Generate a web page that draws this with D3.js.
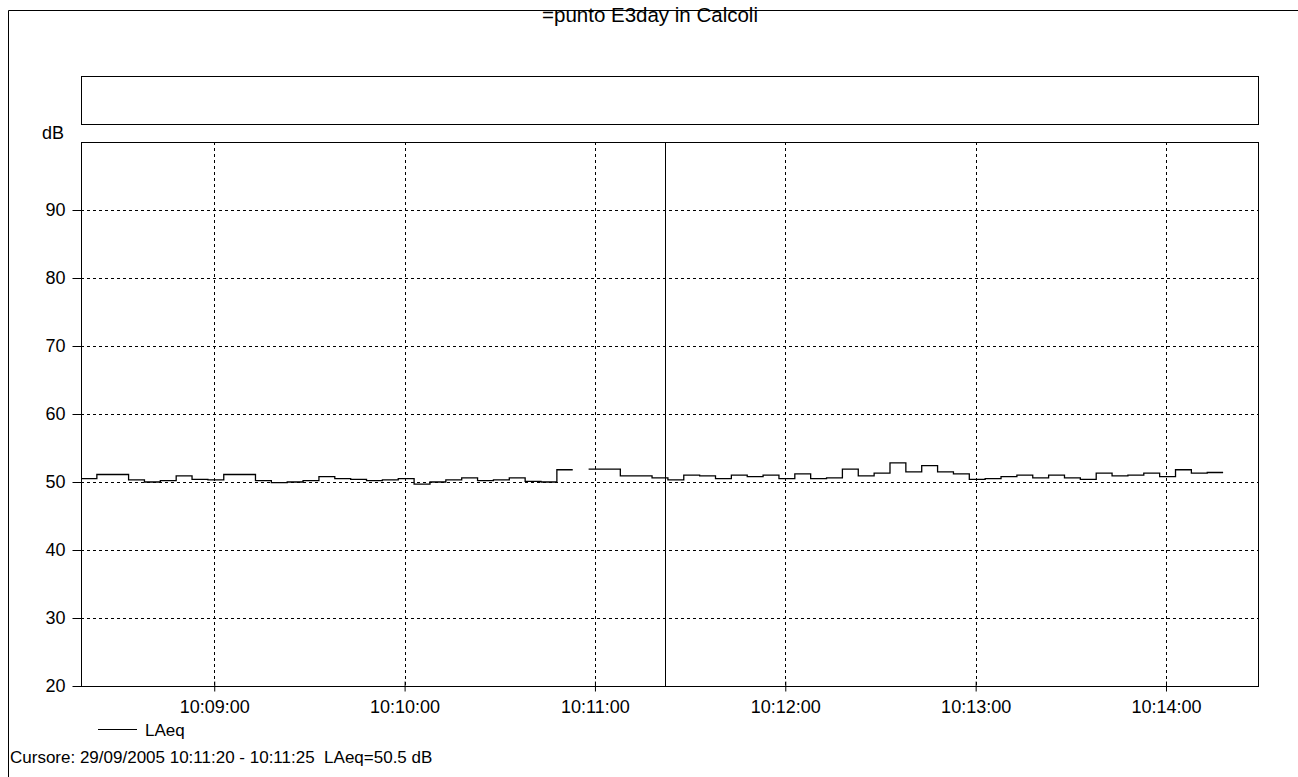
<!DOCTYPE html>
<html>
<head>
<meta charset="utf-8">
<title>=punto E3day in Calcoli</title>
<script src="https://cdn.jsdelivr.net/npm/d3@7"></script>
<style>
  body { margin: 0; background: #fff; }
  svg { display: block; font-family: "Liberation Sans", Arial, sans-serif; }
</style>
</head>
<body>
<div id="chart"></div>
<script>
// LAeq, 5 s intervals starting at 10:08:18 (null = missing sample)
const start_time = "10:08:18";
const step_seconds = 5;
const laeq = [
  50.5, 51.1, 51.1, 50.3, 50.0, 50.2, 50.9, 50.4, 50.3, 51.1,
  51.1, 50.2, 49.9, 50.0, 50.2, 50.8, 50.5, 50.4, 50.2, 50.3,
  50.5, 49.7, 50.0, 50.3, 50.6, 50.2, 50.3, 50.6, 50.1, 50.0,
  51.8, null, 51.9, 51.9, 50.9, 50.9, 50.6, 50.3, 51.0, 50.9,
  50.5, 51.0, 50.8, 51.0, 50.5, 51.2, 50.5, 50.6, 51.9, 50.9,
  51.3, 52.8, 51.5, 52.4, 51.5, 51.2, 50.4, 50.5, 50.8, 51.0,
  50.6, 51.0, 50.6, 50.4, 51.3, 50.9, 51.0, 51.3, 50.8, 51.8,
  51.3, 51.4
];
const y_ticks = [20, 30, 40, 50, 60, 70, 80, 90];
const x_ticks = ["10:09:00", "10:10:00", "10:11:00", "10:12:00", "10:13:00", "10:14:00"];
const x_range_times = ["10:08:18", "10:14:29"];
const cursor_time = "10:11:22";
const title = "=punto E3day in Calcoli";
const series_name = "LAeq";
const status_text = "Cursore: 29/09/2005 10:11:20 - 10:11:25  LAeq=50.5 dB";

const width = 1298, height = 777;
const plot = {left: 81, right: 1258, top: 142, bottom: 686};
const parse = d3.timeParse("%H:%M:%S");
const fmt = d3.timeFormat("%H:%M:%S");

// step points: each sample holds until the next one; a missing sample breaks the line
const t0 = parse(start_time);
const time_at = i => d3.timeSecond.offset(t0, i * step_seconds);
const points = [];
laeq.forEach((v, i) => {
  if (v == null) { points.push({t: time_at(i), v: null}); return; }
  points.push({t: time_at(i), v: v});
  if (i === laeq.length - 1 || laeq[i + 1] == null) points.push({t: time_at(i + 1), v: v});
});

const svg = d3.select("#chart").append("svg")
  .attr("width", width).attr("height", height)
  .style("font-size", "18px");

const x = d3.scaleTime()
  .domain(x_range_times.map(parse))
  .range([plot.left, plot.right]);

const y = d3.scaleLinear()
  .domain([20, 100])
  .range([plot.bottom, plot.top]);

// outer frame (top and left edges only visible)
svg.append("path")
  .attr("d", `M8.5,${height} V10.5 H${width}`)
  .attr("fill", "none").attr("stroke", "#000");

svg.append("text")
  .attr("x", 650).attr("y", 22)
  .attr("text-anchor", "middle")
  .style("font-size", "20.5px")
  .text(title);

// empty upper box
svg.append("rect")
  .attr("x", plot.left + 0.5).attr("y", 76.5)
  .attr("width", plot.right - plot.left).attr("height", 48)
  .attr("fill", "none").attr("stroke", "#000");

// grid
const grid = svg.append("g")
  .attr("stroke", "#000").attr("stroke-dasharray", "3,3").attr("stroke-width", 1);

grid.selectAll("line.h")
  .data(y_ticks.filter(d => d > 20))
  .join("line")
    .attr("x1", plot.left).attr("x2", plot.right)
    .attr("y1", d => Math.round(y(d)) + 0.5).attr("y2", d => Math.round(y(d)) + 0.5);

grid.selectAll("line.v")
  .data(x_ticks.map(parse))
  .join("line")
    .attr("x1", d => Math.round(x(d)) + 0.5).attr("x2", d => Math.round(x(d)) + 0.5)
    .attr("y1", plot.top).attr("y2", plot.bottom);

// plot frame
svg.append("rect")
  .attr("x", plot.left + 0.5).attr("y", plot.top + 0.5)
  .attr("width", plot.right - plot.left).attr("height", plot.bottom - plot.top)
  .attr("fill", "none").attr("stroke", "#000");

// y axis
const yAxis = g => g
  .attr("transform", `translate(${plot.left + 0.5},0)`)
  .call(d3.axisLeft(y).tickValues(y_ticks).tickSize(9).tickPadding(7))
  .call(g => g.select(".domain").remove())
  .call(g => g.selectAll("text").style("font-size", "18px").attr("fill", "#000"));

svg.append("g").call(yAxis);

svg.append("text")
  .attr("x", 42).attr("y", 139)
  .style("font-size", "18px")
  .text("dB");

// x axis
const xAxis = g => g
  .attr("transform", `translate(0,${plot.bottom + 0.5})`)
  .call(d3.axisBottom(x).tickValues(x_ticks.map(parse)).tickFormat(fmt).tickSize(5).tickPadding(9))
  .call(g => g.select(".domain").remove())
  .call(g => g.selectAll(".tick line").attr("y1", -5))
  .call(g => g.selectAll("text").style("font-size", "18px").attr("fill", "#000"));

svg.append("g").call(xAxis);

// cursor
svg.append("line")
  .attr("x1", Math.round(x(parse(cursor_time))) + 0.5)
  .attr("x2", Math.round(x(parse(cursor_time))) + 0.5)
  .attr("y1", plot.top).attr("y2", plot.bottom)
  .attr("stroke", "#000");

// LAeq step line
const line = d3.line()
  .defined(d => d.v != null)
  .x(d => x(d.t))
  .y(d => y(d.v))
  .curve(d3.curveStepAfter);

svg.append("path")
  .datum(points)
  .attr("fill", "none")
  .attr("stroke", "#000")
  .attr("stroke-width", 1.3)
  .attr("d", line);

// legend
svg.append("line")
  .attr("x1", 98).attr("x2", 137)
  .attr("y1", 729.5).attr("y2", 729.5)
  .attr("stroke", "#000");

svg.append("text")
  .attr("x", 145).attr("y", 736)
  .style("font-size", "17px")
  .text(series_name);

svg.append("text")
  .attr("x", 10).attr("y", 763)
  .style("font-size", "17px")
  .style("white-space", "pre")
  .text(status_text);
</script>
</body>
</html>
